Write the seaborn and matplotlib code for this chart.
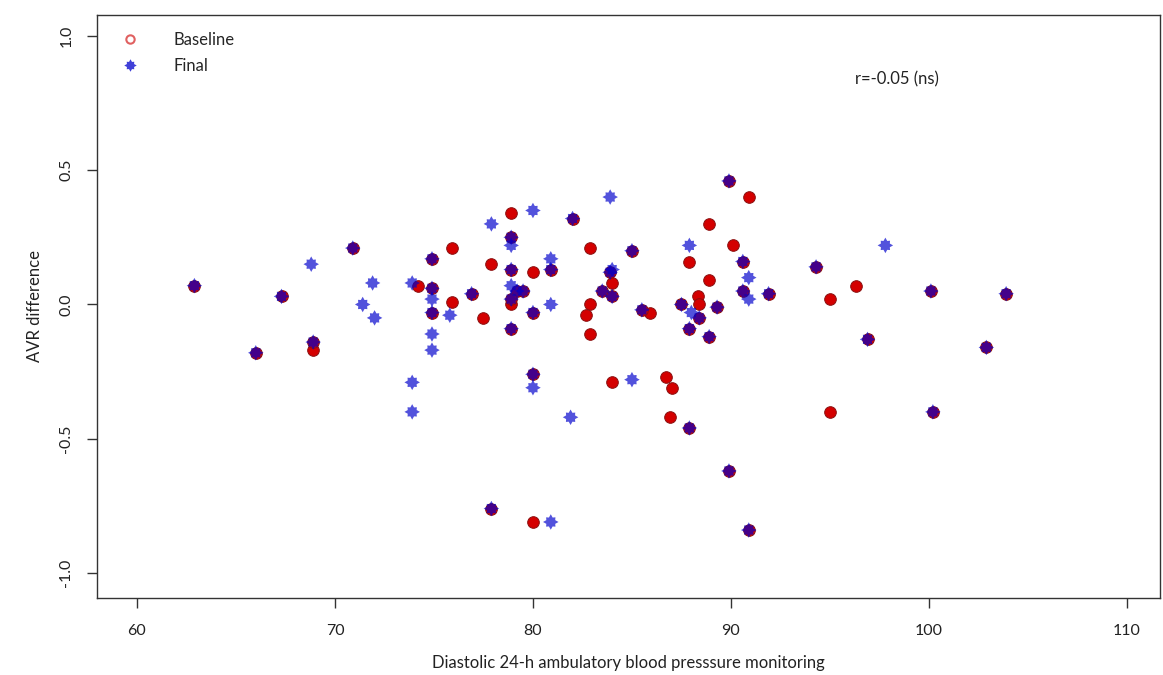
import numpy as np
import pandas as pd
import matplotlib
matplotlib.use("Agg")
import matplotlib.pyplot as plt
from matplotlib.path import Path
from matplotlib.lines import Line2D
import seaborn as sns

# ---- data ----
# subjects whose baseline and final values coincide
both_x = [62.9, 66.0, 67.3, 68.9, 70.9, 74.9, 74.9, 74.9, 76.9, 77.9, 78.9, 78.9, 79.2, 79.5,
          78.9, 78.9, 82.0, 80.0, 80.0, 80.9, 83.9, 83.5, 84.0, 85.0, 85.5, 87.5, 88.4, 87.9,
          87.9, 88.9, 89.3, 89.9, 89.9, 90.6, 90.6, 90.9, 91.9, 94.3, 96.9, 100.1, 100.2, 102.9, 103.9]
both_y = [0.07, -0.18, 0.03, -0.14, 0.21, 0.17, 0.06, -0.03, 0.04, -0.76, 0.25, 0.13, 0.05, 0.05,
          0.02, -0.09, 0.32, -0.03, -0.26, 0.13, 0.12, 0.05, 0.03, 0.20, -0.02, 0.00, -0.05, -0.09,
          -0.46, -0.12, -0.01, 0.46, -0.62, 0.16, 0.05, -0.84, 0.04, 0.14, -0.13, 0.05, -0.40, -0.16, 0.04]

baseline_only_x = [68.9, 74.2, 75.9, 75.9, 77.5, 77.9, 78.9, 78.9, 80.0, 80.0, 82.9, 82.9, 82.7, 82.9,
                   84.0, 84.0, 85.9, 86.7, 87.0, 86.9, 88.35, 88.4, 87.9, 88.9, 88.9, 90.1, 90.9,
                   95.0, 95.0, 96.3]
baseline_only_y = [-0.17, 0.07, 0.21, 0.01, -0.05, 0.15, 0.34, 0.00, 0.12, -0.81, 0.21, 0.00, -0.04, -0.11,
                   0.08, -0.29, -0.03, -0.27, -0.31, -0.42, 0.03, 0.00, 0.16, 0.30, 0.09, 0.22, 0.40,
                   0.02, -0.40, 0.07]

final_only_x = [68.8, 71.4, 71.9, 72.0, 73.9, 73.9, 73.9, 74.9, 74.9, 74.9, 75.8, 77.9, 78.9, 78.9,
                80.0, 80.0, 80.9, 80.9, 80.9, 81.9, 83.9, 84.0, 85.0, 88.0, 87.9, 90.9, 90.9, 97.8]
final_only_y = [0.15, 0.00, 0.08, -0.05, 0.08, -0.29, -0.40, 0.02, -0.11, -0.17, -0.04, 0.30, 0.22, 0.07,
                0.35, -0.31, -0.81, 0.17, 0.00, -0.42, 0.40, 0.13, -0.28, -0.03, 0.22, 0.10, 0.02, 0.22]

baseline_x = baseline_only_x + both_x
baseline_y = baseline_only_y + both_y
final_x = final_only_x + both_x
final_y = final_only_y + both_y

x_ticks = [60, 70, 80, 90, 100, 110]
y_ticks = [-1.0, -0.5, 0.0, 0.5, 1.0]
y_tick_labels = ["-1.0", "-0.5", "0.0", "0.5", "1.0"]

df_base = pd.DataFrame({"x": baseline_x, "y": baseline_y})
df_final = pd.DataFrame({"x": final_x, "y": final_y})

# ---- style ----
sns.set_style("white")
plt.rcParams["font.family"] = ["Lato", "DejaVu Sans"]

fig = plt.figure(figsize=(11.63, 6.75), dpi=100)
ax = fig.add_axes([0.0834, 0.1141, 0.914, 0.8637])

# asterisk-like fat star marker
ang = np.linspace(0, 2 * np.pi, 16, endpoint=False) + np.pi / 2
rad = np.array([1.0, 0.62, 0.85, 0.62] * 4)
verts = np.column_stack([rad * np.cos(ang), rad * np.sin(ang)])
verts = np.vstack([verts, verts[0]])
codes = [Path.MOVETO] + [Path.LINETO] * 15 + [Path.CLOSEPOLY]
star = Path(verts, codes)

red = "#d40000"
blue = "#0000cc"

sns.scatterplot(data=df_base, x="x", y="y", ax=ax, marker="o", s=70,
                color=red, edgecolor="#8a1010", linewidth=0.7, zorder=3, legend=False)
sns.scatterplot(data=df_final, x="x", y="y", ax=ax, marker=star, s=125,
                color=blue, edgecolor="none", linewidth=0, alpha=0.68, zorder=4, legend=False)

ax.set_xlim(57.98, 111.67)
ax.set_ylim(-1.093, 1.078)
ax.set_xticks(x_ticks)
ax.set_xticklabels([str(t) for t in x_ticks])
ax.set_yticks(y_ticks)
ax.set_yticklabels(y_tick_labels, rotation=90, va="center")

for s in ax.spines.values():
    s.set_visible(True)
    s.set_color("#333333")
    s.set_linewidth(1.0)

ax.tick_params(axis="both", which="both", direction="out", length=7, width=1.0,
               color="#333333", labelsize=11.5, labelcolor="#222222", pad=12)
ax.tick_params(axis="y", pad=10)
ax.tick_params(bottom=True, left=True, top=False, right=False)

ax.set_xlabel("Diastolic 24-h ambulatory blood presssure monitoring", fontsize=12,
              color="#222222", labelpad=12)
ax.set_ylabel("AVR difference", fontsize=12, color="#222222", labelpad=12)

ax.text(98.4, 0.838, "r=-0.05 (ns)", fontsize=12, color="#222222", ha="center", va="center")

handles = [
    Line2D([], [], linestyle="none", marker="o", markersize=6, markerfacecolor="none",
           markeredgecolor="#e06060", markeredgewidth=1.5, label="Baseline"),
    Line2D([], [], linestyle="none", marker=star, markersize=9, color=blue, alpha=0.75,
           markeredgewidth=0, label="Final"),
]
ax.legend(handles=handles, loc="upper left", frameon=False, fontsize=12,
          handletextpad=1.6, borderaxespad=0.6, labelspacing=0.6, bbox_to_anchor=(0.0, 1.0))

fig.savefig("out.png", dpi=100)
